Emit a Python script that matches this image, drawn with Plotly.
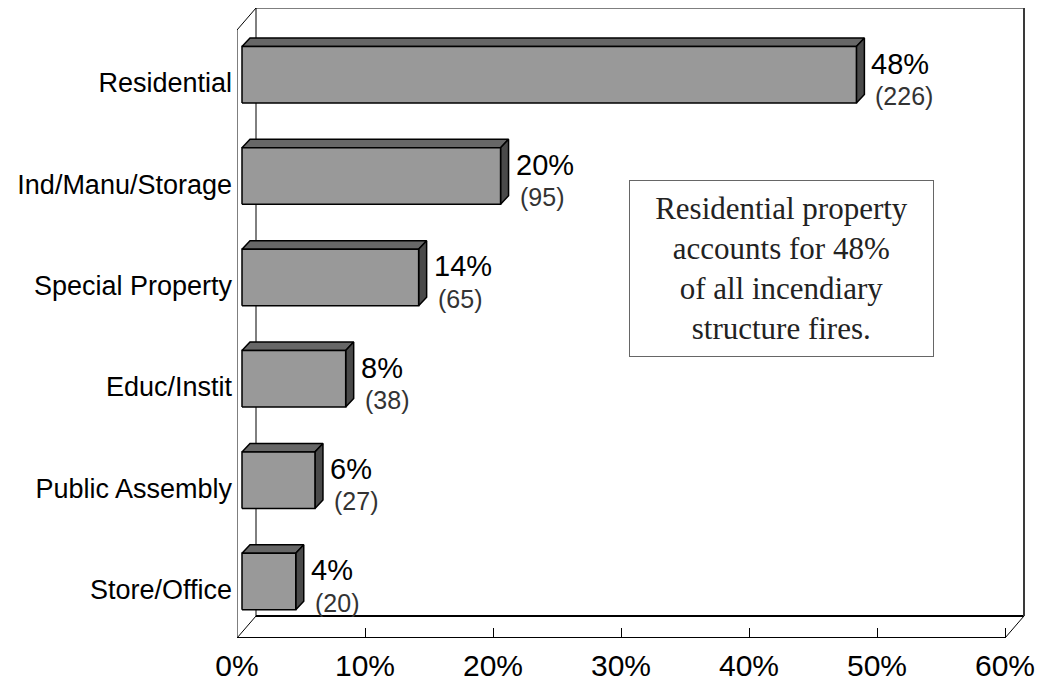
import plotly.graph_objects as go

# ---------------- data ----------------
categories = ["Residential", "Ind/Manu/Storage", "Special Property",
              "Educ/Instit", "Public Assembly", "Store/Office"]
share_pct = [48.0, 20.2, 13.8, 8.1, 5.7, 4.2]          # bar lengths (%)
pct_labels = ["48%", "20%", "14%", "8%", "6%", "4%"]
count_labels = ["(226)", "(95)", "(65)", "(38)", "(27)", "(20)"]
x_tickvals = [0, 10, 20, 30, 40, 50, 60]
x_ticktext = ["0%", "10%", "20%", "30%", "40%", "50%", "60%"]
note_text = ("Residential property<br>accounts for 48%<br>"
             "of all incendiary<br>structure fires.")

# ---------------- geometry (layout constants) ----------------
W, H = 1053, 683
PAGE_OFF = 8                      # default body margin of the html page
ML, MR, MT, MB = 237 - PAGE_OFF, 28 + PAGE_OFF, 0, 45 + PAGE_OFF
plot_w = W - ML - MR
plot_h = H - MT - MB
PX_PER_PCT = 12.8
PX_PER_CAT = 101.36
x_max = plot_w / PX_PER_PCT
y_min = -56.5 / PX_PER_CAT
y_max = y_min + plot_h / PX_PER_CAT
X_FRONT_END = 60

# wall depth
DX = 19 / PX_PER_PCT
DY = 22 / PX_PER_CAT
# bar geometry
X0 = 5 / PX_PER_PCT
BH = 56.5 / PX_PER_CAT
BDX = 8 / PX_PER_PCT
BDY = 8.5 / PX_PER_CAT

n = len(categories)
ypos = [n - 1 - k for k in range(n)]

fig = go.Figure()

# ---------------- frame (walls) ----------------
def seg(x0, y0, x1, y1, color="black", width=1):
    fig.add_shape(type="line", xref="x", yref="y", x0=x0, y0=y0, x1=x1, y1=y1,
                  line=dict(color=color, width=width), layer="below")

yb = y_min
seg(0, yb, X_FRONT_END, yb, width=2)                       # front floor
seg(0, yb, DX, yb + DY)                                    # left floor diagonal
seg(X_FRONT_END, yb, X_FRONT_END + DX, yb + DY)            # right floor diagonal
seg(DX, yb + DY, X_FRONT_END + DX, yb + DY, width=2)       # back floor
seg(DX, yb + DY, DX, y_max)                                # back-left vertical
seg(DX, y_max, X_FRONT_END + DX, y_max)                    # back top
seg(X_FRONT_END + DX, yb + DY, X_FRONT_END + DX, y_max, color="#3a3a3a", width=2)
seg(0, yb, 0, y_max - DY)                                  # front-left vertical
seg(0, y_max - DY, DX, y_max)                              # top-left diagonal

# ---------------- 3D bars ----------------
fx, fy, tx, ty, sx, sy = [], [], [], [], [], []
for v, yc in zip(share_pct, ypos):
    xa, xb = X0, X0 + v
    ya, yt = yc - BH / 2, yc + BH / 2
    fx += [xa, xb, xb, xa, xa, None]
    fy += [ya, ya, yt, yt, ya, None]
    tx += [xa, xb, xb + BDX, xa + BDX, xa, None]
    ty += [yt, yt, yt + BDY, yt + BDY, yt, None]
    sx += [xb, xb + BDX, xb + BDX, xb, xb, None]
    sy += [ya, ya + BDY, yt + BDY, yt, ya, None]

for xs, ys, col in [(tx, ty, "#676767"), (sx, sy, "#4a4a4a"), (fx, fy, "#999999")]:
    fig.add_trace(go.Scatter(x=xs, y=ys, mode="lines", fill="toself",
                             fillcolor=col, line=dict(color="black", width=1.5),
                             hoverinfo="skip", showlegend=False))

# ---------------- value labels ----------------
for v, yc, p, c in zip(share_pct, ypos, pct_labels, count_labels):
    xe = X0 + v + BDX
    fig.add_annotation(x=xe, y=yc + 0.11, xref="x", yref="y", text=p,
                       showarrow=False, xanchor="left", yanchor="middle", xshift=5,
                       font=dict(family="Liberation Sans, Arial, sans-serif",
                                 size=29, color="black"))
    fig.add_annotation(x=xe, y=yc - 0.21, xref="x", yref="y", text=c,
                       showarrow=False, xanchor="left", yanchor="middle", xshift=9,
                       font=dict(family="Liberation Sans, Arial, sans-serif",
                                 size=25, color="#333333"))

# ---------------- note box ----------------
fig.add_annotation(x=(781.5 - 237) / plot_w, y=(638 - 268.5) / plot_h,
                   xref="paper", yref="paper", text=note_text, showarrow=False,
                   xanchor="center", yanchor="middle", align="center",
                   width=297, height=169, borderpad=3, borderwidth=1,
                   bordercolor="#666666", bgcolor="white",
                   font=dict(family="Liberation Serif, Times New Roman, serif",
                             size=31, color="#222222"))

# ---------------- axes ----------------
fig.update_xaxes(range=[0, x_max], tickvals=x_tickvals, ticktext=x_ticktext,
                 ticks="inside", ticklen=10, tickwidth=1, tickcolor="black",
                 showline=False, showgrid=False, zeroline=False,
                 ticklabelstandoff=7,
                 tickfont=dict(family="Liberation Sans, Arial, sans-serif",
                               size=30, color="black"))
fig.update_yaxes(range=[y_min, y_max], tickvals=[y - 0.08 for y in ypos],
                 ticktext=categories, ticks="", showline=False, showgrid=False,
                 zeroline=False, ticklabelstandoff=4,
                 tickfont=dict(family="Liberation Sans, Arial, sans-serif",
                               size=27, color="black"))

fig.update_layout(width=W, height=H, margin=dict(l=ML, r=MR, t=MT, b=MB),
                  paper_bgcolor="white", plot_bgcolor="white", showlegend=False)

fig.write_html("out.html")
